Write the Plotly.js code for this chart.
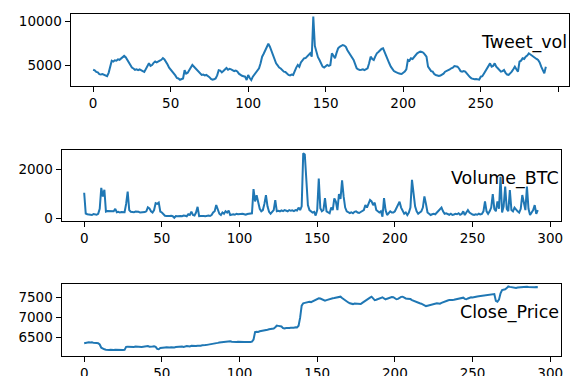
<!DOCTYPE html>
<html>
<head>
<meta charset="utf-8">
<script src="https://cdn.plot.ly/plotly-3.0.1.min.js"></script>
<style>html,body{margin:0;padding:0;background:#fff;}#chart{width:571px;height:376px;}</style>
</head>
<body>
<div id="chart"></div>
<script>
const seriesNames = ["Tweet_vol", "Volume_BTC", "Close_Price"];

const tweetVol = [
4450,4380,4200,4150,3950,3900,3950,3880,3850,3700,
4100,5000,5500,5400,5550,5500,5650,5600,5750,5800,
6050,5900,5600,5300,5000,4700,4600,4450,4500,4400,
4500,4350,4300,4200,4500,4800,5200,4900,5000,5250,
5400,5300,5450,5500,5600,5800,5650,5400,5050,4700,
4500,4300,4100,3800,3500,3450,3300,3350,3450,4400,
4000,4100,4500,4700,5000,4800,4600,4450,4200,4000,
3850,3900,3800,3850,3750,3600,3400,3300,3350,3450,
3800,4400,4350,4150,4300,4500,4650,4450,4550,4500,
4400,4300,4350,4250,4000,3850,3750,3700,3650,3270,
3850,3500,3270,3650,3900,4230,4400,4620,5200,5960,
6300,6700,6920,7450,7120,6600,6150,5700,5190,4950,
4700,4600,4400,4230,4200,4000,3850,3800,3900,3850,
4420,4700,5000,4800,5300,5500,5770,5800,5960,6100,
6350,5960,10600,7200,6350,5900,5580,5200,4810,4700,
4900,5000,4900,5000,6350,6000,5770,6400,6920,7100,
7250,7310,7250,7100,6700,6400,6150,5850,5580,5100,
4620,4500,4420,4450,4500,4400,4500,4620,5200,5960,
5700,5580,6000,6350,6500,6730,6850,6920,6540,6100,
5580,5200,4810,4550,4310,4200,4100,4040,4000,3960,
4100,4230,4500,5580,5500,5770,5700,5960,6200,6350,
6450,6540,6500,6420,6200,5960,4810,4600,4300,4230,
3950,3850,3800,3730,3780,3850,4000,4230,4300,4420,
4500,4620,4700,4880,4800,4810,4600,4300,4230,4300,
4230,4000,3850,3600,3460,3400,3350,3380,3310,3300,
3650,3700,4000,4300,4620,4900,5190,4810,4900,5190,
4800,4620,4400,4230,4300,4420,4100,3900,3850,4000,
4230,4500,4810,4500,4230,5380,5500,5770,5700,5960,
6100,6350,6200,6040,5900,5770,5700,5580,5300,4810,
4400,4040,4810
];

const volumeBTC = [
1050,210,180,160,170,150,190,170,160,200,
400,1250,900,1170,290,310,300,320,310,300,
400,260,280,250,270,280,260,600,1100,350,
280,270,260,290,300,280,250,260,240,270,
300,460,420,300,250,350,630,600,650,290,
250,180,120,110,100,110,120,100,40,110,
100,120,110,100,130,120,100,180,150,290,
150,130,250,480,100,110,120,110,100,120,
130,110,150,250,300,555,350,200,150,250,
200,300,250,330,150,170,180,160,200,180,
190,170,200,180,160,190,200,180,220,1200,
700,950,600,400,300,350,600,950,500,280,
200,300,350,750,300,320,300,340,310,350,
330,300,350,320,340,310,350,330,450,350,
500,2650,2600,1400,550,350,300,250,280,130,
350,1630,420,300,350,830,300,250,220,450,
350,820,690,350,1000,800,1550,900,450,300,
250,230,260,220,280,300,250,230,270,300,
350,550,450,600,760,700,550,650,350,300,
250,300,80,830,350,150,250,300,250,250,
300,450,550,690,450,300,200,250,150,250,
450,1570,900,500,300,200,250,300,450,900,
600,250,200,150,180,200,180,250,350,400,
450,300,200,220,180,160,200,150,170,200,
180,220,160,190,300,150,250,350,250,200,
170,150,180,160,200,170,190,300,700,300,
200,300,450,1000,400,300,700,400,1700,250,
500,1300,400,300,1160,350,300,450,350,300,
250,400,960,700,350,1300,400,150,250,350,
550,200,350
];

const closePrice = [
6360,6370,6385,6385,6380,6385,6370,6360,6365,6360,
6330,6250,6220,6210,6200,6190,6195,6200,6190,6195,
6200,6195,6190,6200,6195,6190,6195,6270,6275,6270,
6280,6275,6270,6280,6275,6285,6280,6270,6275,6285,
6280,6290,6275,6270,6280,6285,6270,6220,6210,6240,
6250,6245,6255,6260,6250,6255,6260,6250,6255,6265,
6270,6265,6275,6280,6270,6285,6290,6285,6280,6295,
6290,6285,6290,6300,6295,6300,6310,6305,6315,6320,
6325,6335,6340,6350,6360,6365,6370,6380,6385,6395,
6400,6395,6405,6400,6410,6400,6395,6400,6395,6400,
6395,6400,6395,6390,6395,6400,6395,6390,6400,6450,
6640,6650,6645,6660,6665,6680,6690,6685,6700,6710,
6720,6715,6730,6760,6800,6795,6790,6780,6740,6730,
6740,6735,6745,6750,6745,6750,6760,6755,6800,7000,
7300,7360,7370,7380,7390,7400,7390,7410,7420,7450,
7470,7485,7480,7460,7440,7425,7440,7455,7460,7470,
7485,7490,7495,7500,7510,7525,7490,7460,7420,7400,
7380,7360,7350,7340,7355,7350,7345,7350,7340,7370,
7400,7430,7460,7470,7500,7525,7480,7440,7450,7470,
7490,7500,7510,7480,7460,7475,7490,7500,7515,7510,
7480,7460,7470,7500,7520,7525,7500,7480,7475,7470,
7465,7440,7420,7400,7380,7370,7360,7350,7330,7310,
7290,7300,7310,7320,7340,7350,7345,7360,7355,7350,
7370,7390,7400,7420,7430,7440,7450,7445,7450,7460,
7455,7470,7480,7490,7500,7470,7460,7480,7500,7510,
7505,7520,7525,7530,7535,7540,7545,7550,7560,7570,
7565,7575,7580,7585,7590,7420,7400,7450,7610,7690,
7700,7710,7740,7780,7770,7760,7755,7750,7745,7755,
7760,7750,7765,7760,7770,7775,7770,7765,7760,7765,
7760,7765,7760
];

const xTicks = [0, 50, 100, 150, 200, 250, 300];
const yTicksTweet = [5000, 10000];
const yTicksVolume = [0, 2000];
const yTicksClose = [6500, 7000, 7500];

const idx = tweetVol.map((_, i) => i);
const lineColor = '#1f77b4';
const font = {family: 'DejaVu Sans, sans-serif', size: 13.5, color: '#000'};

function mk(y, xa, ya) {
  return {x: idx, y: y, type: 'scatter', mode: 'lines', xaxis: xa, yaxis: ya,
          line: {color: lineColor, width: 2}, hoverinfo: 'skip', showlegend: false};
}

const W = 571, H = 376;
function xd(l, r) { return [l / W, r / W]; }
function yd(top, bottom) { return [1 - bottom / H, 1 - top / H]; }

function axis(extra) {
  return Object.assign({
    showline: true, mirror: true, linecolor: '#000', linewidth: 1,
    ticks: 'outside', ticklen: 5, tickwidth: 1, tickcolor: '#000',
    showgrid: false, zeroline: false, tickfont: font, fixedrange: true,
    tickformat: 'd'
  }, extra);
}

const data = [
  mk(tweetVol, 'x', 'y'),
  mk(volumeBTC, 'x2', 'y2'),
  mk(closePrice, 'x3', 'y3')
];

const layout = {
  width: W, height: H,
  margin: {l: 0, r: 0, t: 0, b: 0},
  paper_bgcolor: '#fff', plot_bgcolor: '#fff',
  showlegend: false,
  xaxis: axis({domain: xd(70.5, 568.5), range: [-14.6, 306.6], tickvals: xTicks, anchor: 'y'}),
  yaxis: axis({domain: yd(14, 85.7), range: [2610, 10890], tickvals: yTicksTweet, anchor: 'x'}),
  xaxis2: axis({domain: xd(61.5, 560.5), range: [-14.6, 306.6], tickvals: xTicks, anchor: 'y2'}),
  yaxis2: axis({domain: yd(150, 221), range: [-93, 2781], tickvals: yTicksVolume, anchor: 'x2'}),
  xaxis3: axis({domain: xd(61.5, 560.5), range: [-14.6, 306.6], tickvals: xTicks, anchor: 'y3'}),
  yaxis3: axis({domain: yd(284, 356), range: [6042, 7842], tickvals: yTicksClose, anchor: 'x3'}),
  annotations: [
    ['x', 'y'], ['x2', 'y2'], ['x3', 'y3']
  ].map((a, k) => ({
    text: seriesNames[k], showarrow: false,
    xref: a[0] + ' domain', yref: a[1] + ' domain',
    x: 1, y: 0.5, xanchor: 'right', yanchor: 'bottom', yshift: -5,
    font: {family: 'DejaVu Sans, sans-serif', size: 17.5, color: '#000'}
  }))
};

Plotly.newPlot('chart', data, layout, {displayModeBar: false, staticPlot: true});
</script>
</body>
</html>
